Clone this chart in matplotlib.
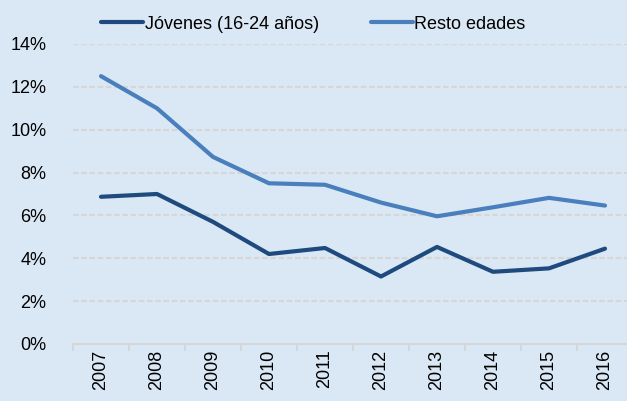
import matplotlib
matplotlib.use("Agg")
import matplotlib.pyplot as plt
from matplotlib.ticker import FuncFormatter, FixedLocator

years = ["2007", "2008", "2009", "2010", "2011", "2012", "2013", "2014", "2015", "2016"]
jovenes = [6.87, 7.0, 5.7, 4.2, 4.48, 3.15, 4.53, 3.37, 3.53, 4.45]
resto = [12.5, 11.0, 8.73, 7.5, 7.43, 6.6, 5.96, 6.38, 6.82, 6.46]

bg = "#DAE8F5"
plt.rcParams["font.family"] = ["Liberation Sans", "DejaVu Sans"]

fig = plt.figure(figsize=(6.27, 4.01), dpi=100)
fig.patch.set_facecolor(bg)
ax = fig.add_axes([73/627, 57/401, 560/627, 300/401])
ax.set_facecolor(bg)

x = list(range(len(years)))
ax.plot(x, jovenes, color="#1F4A7E", lw=3.0, solid_capstyle="round", label="Jóvenes (16-24 años)", zorder=3)
ax.plot(x, resto, color="#4A7FBE", lw=3.0, solid_capstyle="round", label="Resto edades", zorder=3)

ax.set_xlim(-0.5, len(years) - 0.5)
ax.set_ylim(0, 14)
ax.set_yticks(range(0, 15, 2))
ax.yaxis.set_major_formatter(FuncFormatter(lambda v, p: f"{v:.0f}%"))
for yv in range(2, 15, 2):
    ax.axhline(yv, color="#D6D6D6", lw=1.6, ls=(0, (2.5, 1.2)), zorder=1)

ax.set_xticks(x)
ax.set_xticklabels(years, rotation=90, va="top", ha="center")
ax.xaxis.set_minor_locator(FixedLocator([i - 0.5 for i in range(len(years) + 1)]))
ax.tick_params(axis="x", which="major", length=0, pad=4, labelsize=13)
ax.tick_params(axis="x", which="minor", length=5, color="#D6D6D6", width=1.4)
ax.tick_params(axis="y", length=0, pad=19, labelsize=13)

for s in ["top", "right", "left"]:
    ax.spines[s].set_visible(False)
ax.spines["bottom"].set_color("#D6D6D6")
ax.spines["bottom"].set_linewidth(1.4)

fig.legend(loc="center", bbox_to_anchor=(0.5, 0.94), ncol=2, frameon=False,
           fontsize=13, handlelength=2.3, handletextpad=0.1, columnspacing=2.9)

fig.savefig("out.png", dpi=100, facecolor=bg)
